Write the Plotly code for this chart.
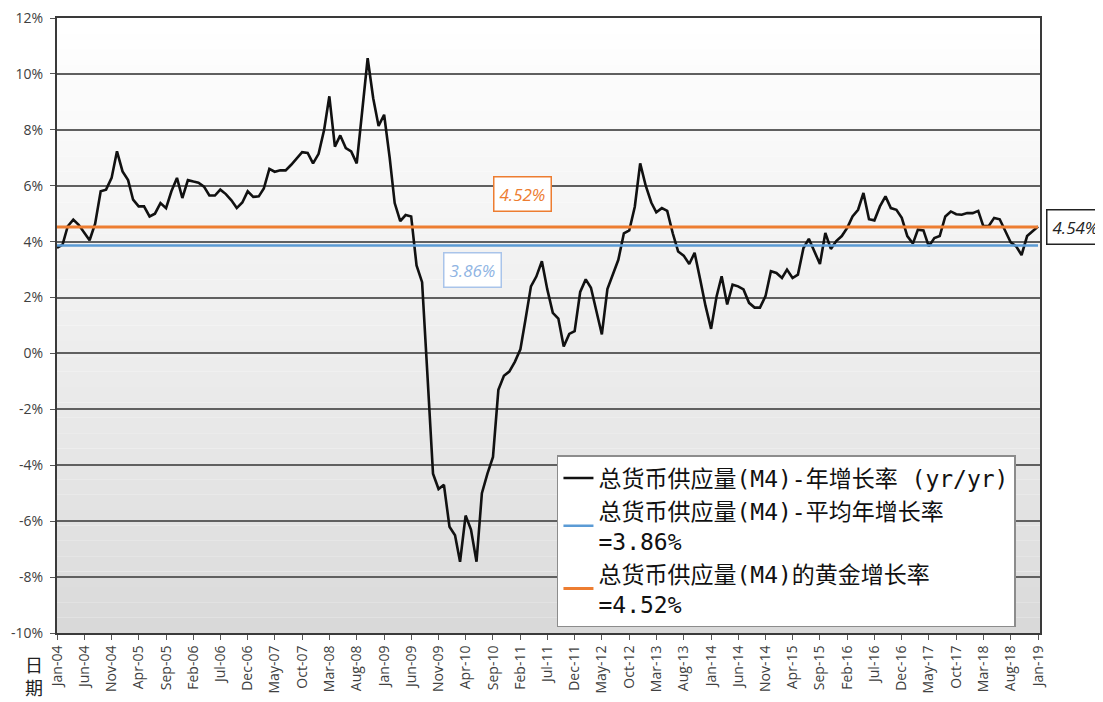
import pandas as pd
import plotly.graph_objects as go

# M4 年增长率 (%), 每月一个值, 2004-01 ~ 2019-01
growth_2004 = [3.78, 3.89, 4.55, 4.79, 4.6, 4.3, 4.05, 4.64, 5.8, 5.86, 6.28, 7.23]
growth_2005 = [6.51, 6.2, 5.5, 5.26, 5.26, 4.9, 5.0, 5.38, 5.2, 5.8, 6.28, 5.56]
growth_2006 = [6.2, 6.15, 6.11, 5.97, 5.65, 5.65, 5.86, 5.7, 5.48, 5.2, 5.4, 5.8]
growth_2007 = [5.6, 5.62, 5.9, 6.6, 6.5, 6.55, 6.55, 6.75, 7.0, 7.2, 7.17, 6.8]
growth_2008 = [7.14, 8.0, 9.2, 7.4, 7.8, 7.35, 7.23, 6.8, 8.7, 10.56, 9.13, 8.14]
growth_2009 = [8.54, 7.0, 5.38, 4.73, 4.95, 4.9, 3.15, 2.55, -0.9, -4.3, -4.85, -4.7]
growth_2010 = [-6.2, -6.5, -7.45, -5.8, -6.3, -7.45, -5.0, -4.3, -3.7, -1.3, -0.8, -0.65]
growth_2011 = [-0.3, 0.15, 1.2, 2.4, 2.75, 3.3, 2.3, 1.45, 1.25, 0.25, 0.7, 0.8]
growth_2012 = [2.2, 2.65, 2.35, 1.55, 0.68, 2.3, 2.85, 3.35, 4.3, 4.4, 5.25, 6.8]
growth_2013 = [6.0, 5.4, 5.05, 5.2, 5.1, 4.3, 3.65, 3.5, 3.2, 3.6, 2.65, 1.7]
growth_2014 = [0.88, 2.05, 2.76, 1.75, 2.46, 2.4, 2.29, 1.81, 1.64, 1.64, 2.05, 2.94]
growth_2015 = [2.88, 2.7, 3.0, 2.7, 2.82, 3.77, 4.1, 3.67, 3.2, 4.31, 3.74, 4.02]
growth_2016 = [4.2, 4.5, 4.9, 5.14, 5.74, 4.8, 4.76, 5.26, 5.62, 5.2, 5.14, 4.85]
growth_2017 = [4.2, 3.93, 4.43, 4.4, 3.83, 4.13, 4.2, 4.9, 5.08, 4.98, 4.96, 5.02]
growth_2018 = [5.02, 5.1, 4.56, 4.56, 4.85, 4.8, 4.37, 3.98, 3.83, 3.52, 4.2, 4.37]
growth_2019 = [4.54]

growth = (growth_2004 + growth_2005 + growth_2006 + growth_2007 + growth_2008
          + growth_2009 + growth_2010 + growth_2011 + growth_2012 + growth_2013
          + growth_2014 + growth_2015 + growth_2016 + growth_2017 + growth_2018
          + growth_2019)
dates = pd.date_range("2004-01-01", periods=len(growth), freq="MS")

avg_rate = 3.86
golden_rate = 4.52
last_rate = 4.54

y_ticks = [-10, -8, -6, -4, -2, 0, 2, 4, 6, 8, 10, 12]
y_labels = ["-10%", "-8%", "-6%", "-4%", "-2%", "0%", "2%", "4%", "6%", "8%", "10%", "12%"]

names = [
    "总货币供应量(M4)-年增长率 (yr/yr)",
    "总货币供应量(M4)-平均年增长率<br>=3.86%",
    "总货币供应量(M4)的黄金增长率<br>=4.52%",
]

fig = go.Figure()
fig.add_trace(go.Scatter(x=dates, y=growth, mode="lines", name=names[0],
                         line=dict(color="#111111", width=2.6)))
fig.add_trace(go.Scatter(x=dates, y=[avg_rate] * len(dates), mode="lines", name=names[1],
                         line=dict(color="#5b9bd5", width=2.6)))
fig.add_trace(go.Scatter(x=dates, y=[golden_rate] * len(dates), mode="lines", name=names[2],
                         line=dict(color="#ed7d31", width=3)))

# 背景渐变 (上白下灰)
n_bands = 40
shapes = []
for i in range(n_bands):
    t = i / (n_bands - 1)
    g = int(217 + (255 - 217) * t ** 0.8)
    shapes.append(dict(type="rect", xref="paper", yref="paper",
                       x0=0, x1=1, y0=i / n_bands, y1=(i + 1) / n_bands,
                       fillcolor=f"rgb({g},{g},{g})", line=dict(width=0), layer="below"))

# 页面 body 默认有 8px 边距, 所以图本身缩小 8px
fig.update_layout(
    width=1095, height=694,
    margin=dict(l=49, r=63, t=10, b=69),
    paper_bgcolor="white",
    plot_bgcolor="white",
    shapes=shapes,
    showlegend=True,
    legend=dict(x=0.5086, y=0.2894, xanchor="left", yanchor="top",
                bgcolor="white", bordercolor="#8c8c8c", borderwidth=1.5,
                font=dict(family="DejaVu Sans Mono, Noto Sans CJK SC", size=23, color="#111"),
                tracegroupgap=0),
    font=dict(family="Open Sans", color="#404040"),
)

fig.update_xaxes(
    range=["2004-01-01", "2019-01-12"],
    tick0="2004-01-01", dtick="M5", tickformat="%b-%y", tickangle=-90,
    tickfont=dict(size=14, color="#404040"),
    ticks="outside", ticklen=5, tickcolor="#555",
    showgrid=False, showline=True, linecolor="#3a3a3a", linewidth=2, mirror=True,
    zeroline=False, automargin=False,
)
fig.update_yaxes(
    range=[-10, 12], tickmode="array", tickvals=y_ticks, ticktext=y_labels,
    tickfont=dict(size=14, color="#404040"), ticklabeloverflow="allow",
    ticklabelstandoff=4,
    ticks="outside", ticklen=5, tickcolor="#555",
    showgrid=True, gridcolor="#606060", gridwidth=1.5,
    showline=True, linecolor="#3a3a3a", linewidth=2, mirror=True,
    zeroline=False, automargin=False,
)

fig.add_annotation(x="2011-02-10", y=5.7, text="4.52%", showarrow=False,
                   font=dict(family="Open Sans", size=17, color="#ed7d31", style="italic"),
                   bgcolor="white", bordercolor="#ed7d31", borderwidth=1.5, borderpad=5)
fig.add_annotation(x="2010-05-10", y=3.0, text="3.86%", showarrow=False,
                   font=dict(family="Open Sans", size=17, color="#8fb4e3", style="italic"),
                   bgcolor="white", bordercolor="#a9c4ea", borderwidth=1.5, borderpad=5)
fig.add_annotation(xref="paper", x=1.006, xanchor="left", y=last_rate, text="4.54%",
                   showarrow=False,
                   font=dict(family="Open Sans", size=17, color="#222", style="italic"),
                   bgcolor="white", bordercolor="#222", borderwidth=1.5, borderpad=5)
fig.add_annotation(xref="paper", yref="paper", x=-0.023, y=-0.026, xanchor="center",
                   yanchor="top", text="日<br>期", showarrow=False,
                   font=dict(family="Noto Sans CJK SC", size=18, color="#222"))

fig.write_html("out.html")
